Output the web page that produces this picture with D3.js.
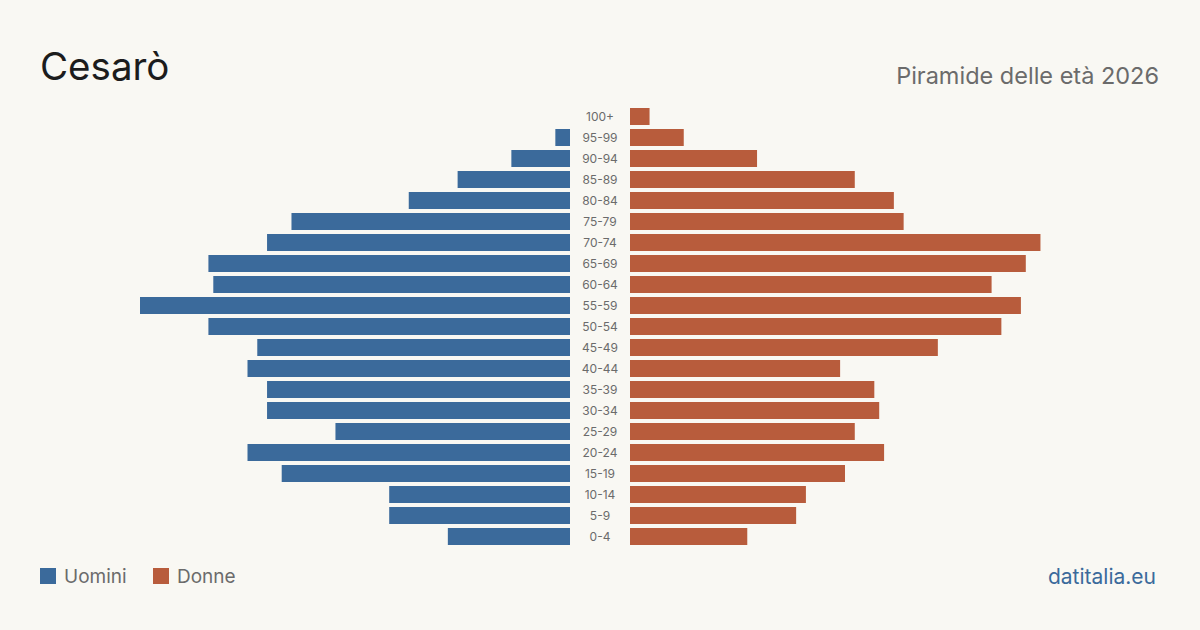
<!DOCTYPE html>
<html>
<head>
<meta charset="utf-8">
<script src="https://cdn.jsdelivr.net/npm/d3@7"></script>
<style>
  html, body { margin: 0; padding: 0; background: #f9f8f3; }
  svg { display: block; font-family: Inter, "Noto Sans", sans-serif; }
</style>
</head>
<body>
<div id="chart"></div>
<script>
// Fasce d'età, dall'alto verso il basso
const ageGroups = ["100+", "95-99", "90-94", "85-89", "80-84", "75-79", "70-74", "65-69",
  "60-64", "55-59", "50-54", "45-49", "40-44", "35-39", "30-34", "25-29",
  "20-24", "15-19", "10-14", "5-9", "0-4"];
const men   = [0, 3, 12, 23, 33, 57, 62, 74, 73, 88, 74, 64, 66, 62, 62, 48, 66, 59, 37, 37, 25];
const women = [4, 11, 26, 46, 54, 56, 84, 81, 74, 80, 76, 63, 43, 50, 51, 46, 52, 44, 36, 34, 24];

const W = 1200, H = 630;
const blue = "#3b6a9b", red = "#b85c3c";

const svg = d3.select("#chart").append("svg")
  .attr("width", W).attr("height", H);

svg.append("rect").attr("width", W).attr("height", H).attr("fill", "#f9f8f3");

// Titoli
svg.append("text").attr("x", 40).attr("y", 80)
  .attr("font-size", 38.5).attr("fill", "#1c1c1c").text("Cesarò");
svg.append("text").attr("x", 1159).attr("y", 84).attr("text-anchor", "end")
  .attr("font-size", 23.5).attr("fill", "#6b6b6b").text("Piramide delle età 2026");

// Scale
const y = d3.scaleBand().domain(ageGroups).range([106, 547]).paddingInner(4 / 21).paddingOuter(2 / 21);
const x = d3.scaleLinear().domain([0, 88]).range([0, 430]);
const leftEdge = 570, rightEdge = 630;

svg.append("g").selectAll("rect")
  .data(ageGroups)
  .join("rect")
  .attr("x", (d, i) => leftEdge - x(men[i]))
  .attr("y", d => y(d))
  .attr("width", (d, i) => x(men[i]))
  .attr("height", y.bandwidth())
  .attr("fill", blue);

svg.append("g").selectAll("rect")
  .data(ageGroups)
  .join("rect")
  .attr("x", rightEdge)
  .attr("y", d => y(d))
  .attr("width", (d, i) => x(women[i]))
  .attr("height", y.bandwidth())
  .attr("fill", red);

svg.append("g").selectAll("text")
  .data(ageGroups)
  .join("text")
  .attr("x", 600)
  .attr("y", d => y(d) + y.bandwidth() / 2)
  .attr("dy", "0.35em")
  .attr("text-anchor", "middle")
  .attr("font-size", 12)
  .attr("fill", "#6b6b6b")
  .text(d => d);

// Legenda
const legend = [{ label: "Uomini", color: blue, x: 40 }, { label: "Donne", color: red, x: 153 }];
const lg = svg.append("g").selectAll("g").data(legend).join("g")
  .attr("transform", d => `translate(${d.x},568)`);
lg.append("rect").attr("width", 16).attr("height", 16).attr("fill", d => d.color);
lg.append("text").attr("x", 24).attr("y", 15).attr("font-size", 19)
  .attr("fill", "#6b6b6b").text(d => d.label);

svg.append("text").attr("x", 1156).attr("y", 584).attr("text-anchor", "end")
  .attr("font-size", 21).attr("fill", blue).text("datitalia.eu");
</script>
</body>
</html>
